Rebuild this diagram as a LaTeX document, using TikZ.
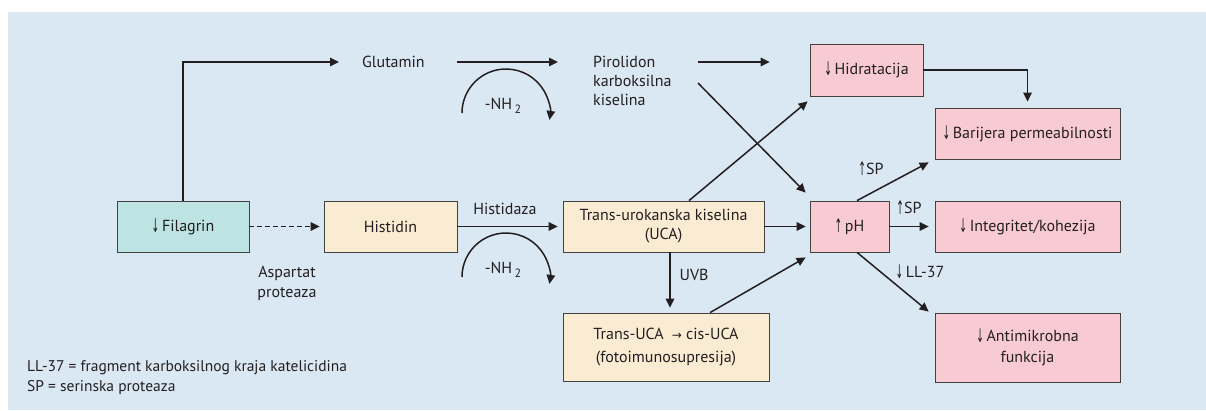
\documentclass[tikz,border=0pt]{standalone}
\usepackage{fontspec}
\setmainfont{PT Sans}
\newfontfamily\symf{DejaVu Sans}
\usetikzlibrary{arrows.meta,calc}
\definecolor{bgblue}{HTML}{DAE8F3}
\definecolor{tealbox}{HTML}{BDE3E2}
\definecolor{beigebox}{HTML}{FAEBD3}
\definecolor{pinkbox}{HTML}{F8CBD3}
\definecolor{ink}{HTML}{231F20}
\newcommand{\myDown}{\raisebox{-0.15ex}{\scalebox{0.7}[1.45]{\symf\fontsize{13}{15}\selectfont ↓}}}
\newcommand{\myUp}{\raisebox{-0.15ex}{\scalebox{0.7}[1.45]{\symf\fontsize{13}{15}\selectfont ↑}}}
\newcommand{\myRight}{{\symf\fontsize{12}{15}\selectfont →}}
\newcommand{\subtwo}{\raisebox{-0.45ex}{\fontsize{12}{14}\selectfont 2}}
\begin{document}
\begin{tikzpicture}[x=1pt,y=-1pt,
  font=\fontsize{16}{19}\selectfont, text=ink,
  box/.style={draw=ink!85, line width=0.8pt, align=center, inner sep=2pt},
  lbl/.style={inner sep=0pt, align=center},
  arr/.style={draw=ink, line width=1.5pt, -{Triangle[length=9pt,width=8.5pt]}},
  darr/.style={arr, dash pattern=on 5pt off 3pt}]
\useasboundingbox (0,0) rectangle (1206,410);
\fill[bgblue] (8,12) rectangle (1206,410);

% boxes
\node[box, fill=tealbox, minimum width=132pt, minimum height=51pt] (fil) at (183,226.5) {\myDown\,Filagrin};
\node[box, fill=beigebox, minimum width=133pt, minimum height=51pt] (his) at (390.5,226.5) {Histidin};
\node[box, fill=beigebox, minimum width=201pt, minimum height=51pt] (uca) at (663.5,226.5) {Trans-urokanska kiselina\\(UCA)};
\node[box, fill=beigebox, minimum width=206pt, minimum height=68pt, font=\fontsize{16}{23}\selectfont] (cis) at (666,347) {Trans-UCA\enspace\myRight\ cis-UCA\\(fotoimunosupresija)};
\node[box, fill=pinkbox, minimum width=79pt, minimum height=51pt] (ph) at (849.5,226.5) {\myUp\,pH};
\node[box, fill=pinkbox, minimum width=185pt, minimum height=51pt] (int) at (1027.5,226.5) {\myDown\,Integritet/kohezija};
\node[box, fill=pinkbox, minimum width=185pt, minimum height=69pt, font=\fontsize{16}{21}\selectfont] (anti) at (1027.5,347.5) {\myDown\,Antimikrobna\\funkcija};
\node[box, fill=pinkbox, minimum width=113pt, minimum height=52pt] (hid) at (866.5,70) {\myDown\,Hidratacija};
\node[box, fill=pinkbox, minimum width=185pt, minimum height=51pt] (bar) at (1027.5,133.5) {\myDown\,Barijera permeabilnosti};

% free texts
\node[lbl, anchor=west] (glu) at (362,62) {Glutamin};
\node[lbl, anchor=west, align=left] (pir) at (593,81) {Pirolidon\\karboksilna\\kiselina};
\node[lbl] (nh1) at (503,106) {-NH\,\subtwo};
\node[lbl] (nh2) at (503,270) {-NH\,\subtwo};
\node[lbl] (hdz) at (505,209) {Histidaza};
\node[lbl, font=\fontsize{16}{20}\selectfont] (asp) at (287,283) {Aspartat\\proteaza};
\node[lbl] (uvb) at (694,275) {UVB};
\node[lbl] (sp1) at (871,169) {\myUp SP};
\node[lbl] (sp2) at (909,208) {\myUp SP};
\node[lbl] (ll) at (920,272) {\myDown\,LL-37};
\node[lbl, anchor=west, align=left, font=\fontsize{15.5}{20}\selectfont] (leg) at (27,378) {LL-37 = fragment karboksilnog kraja katelicidina\\SP = serinska proteaza};

% connectors
\draw[arr] (fil.north) |- ($(glu.west)+(-23,0)$);
\draw[arr] ($(glu.west)+(95,0)$) -- ($(pir.west|-glu.east)+(-35,0)$);
\draw[arr] ($(pir.west|-glu.east)+(105,0)$) -- ($(hid.west|-glu.east)+(-40,0)$);
\draw[arr] ($(pir.west)+(105,2)$) -- ($(ph.north west)+(-4,-8)$);
\draw[arr] ($(uca.north)+(25.5,0)$) -- ($(hid.south west)+(-2,5)$);
\draw[arr] (hid.east) -| ($(bar.north)+(0,-6)$);
\draw[darr] (fil.east) -- ($(his.west)+(-4,0)$);
\draw[arr] (his.east) -- ($(uca.west)+(-5,0)$);
\draw[arr] (uca.east) -- ($(ph.west)+(-4,0)$);
\coordinate (uvbtop) at ($(uca.south)+(6.5,0)$);
\draw[arr] (uvbtop) -- ($(uvbtop|-cis.north)+(0,-5)$);
\draw[arr] ($(cis.north)+(44,0)$) -- ($(ph.south west)+(-4,5)$);
\draw[arr] ($(ph.north)+(7.5,0)$) -- ($(bar.south west)+(-6,3)$);
\draw[arr] (ph.east) -- ($(int.west)+(-6,0)$);
\draw[arr] ($(ph.south)+(7.5,0)$) -- ($(anti.north west)+(-6,-1)$);

% deamination arcs
\draw[arr] ($(nh1)+(-41,7)$) arc[start angle=180,end angle=-9,radius=44pt];
\draw[arr] ($(nh2)+(-41,7)$) arc[start angle=180,end angle=-9,radius=44pt];
\end{tikzpicture}
\end{document}
